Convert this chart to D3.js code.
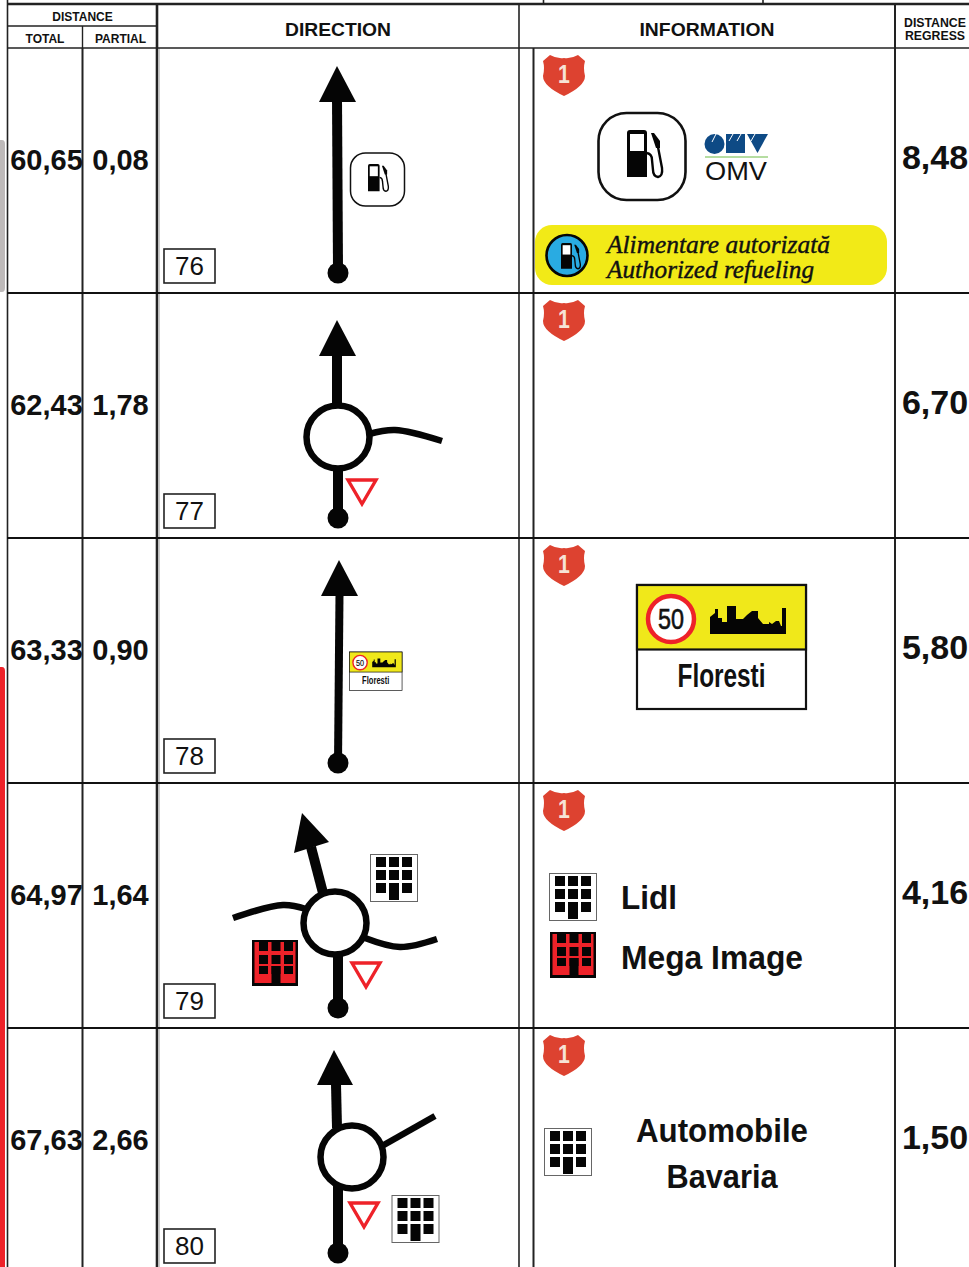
<!DOCTYPE html>
<html>
<head>
<meta charset="utf-8">
<style>
html, body { margin: 0; padding: 0; background: #fff; overflow: hidden; }
svg { display: block; }
text { font-family: "Liberation Sans", Arial, sans-serif; fill: #111; }
</style>
</head>
<body>
<div id="container"></div>
<script src="https://cdnjs.cloudflare.com/ajax/libs/d3/7.8.5/d3.min.js"></script>
<script>
// roadbook sheet, km 60 - 67
const totals = ["60,65", "62,43", "63,33", "64,97", "67,63"]
const partials = ["0,08", "1,78", "0,90", "1,64", "2,66"]
const regress = ["8,48", "6,70", "5,80", "4,16", "1,50"]
const steps = ["76", "77", "78", "79", "80"]
const refuelLines = ["Alimentare autorizată", "Authorized refueling"]
const shops = ["Lidl", "Mega Image"]
const dealerLines = ["Automobile", "Bavaria"]
const signSpeed = "50", signTown = "Floresti", roadNo = "1"

const w = 969, h = 1267
const svg = d3.select("#container").append("svg").attr("width", w).attr("height", h).style("background-color", "white")

const rowY = d3.scaleLinear().domain([0, 1]).range([48, 293])
const ink = "#050505", red = "#ee2229", yellow = "#f2ea17"
const line = d3.line(), curve = d3.line().curve(d3.curveCatmullRom)

// scroll bars at the left edge of the photo
svg.append("path").attr("d", "M0,140 h2 q3,0 3,4 v144 q0,4 -3,4 h-2 z").attr("fill", "#bdb9b9")
svg.append("path").attr("d", "M0,667 h2 q3,0 3,4 v596 h-5 z").attr("fill", red)

// table frame
const rules = [
    [7.5, 0, 7.5, h, 1.6], [82.5, 26, 82.5, 48, 1.4], [82.5, 48, 82.5, h, 2], [157, 4, 157, h, 2.6],
    [519, 4, 519, h, 1.6], [533.5, 48, 533.5, h, 2], [895, 4, 895, h, 2],
    [543.5, 0, 543.5, 4, 1.6], [763, 0, 763, 4, 1.6],
    [7, 4, w, 4, 2.4], [7, 26, 157, 26, 1.4], [7, 48, w, 48, 1.6]
]
svg.append("line").attr("x1", 159.5).attr("x2", 159.5).attr("y1", 48).attr("y2", h).attr("stroke", "#ccc").attr("stroke-width", 1)
svg.selectAll(".rule").data(rules).enter().append("line").attr("class", "rule")
    .attr("x1", d => d[0]).attr("y1", d => d[1]).attr("x2", d => d[2]).attr("y2", d => d[3])
    .attr("stroke", "#222").attr("stroke-width", d => d[4])
svg.selectAll(".rowline").data(d3.range(1, 5)).enter().append("line").attr("class", "rowline")
    .attr("x1", 7).attr("x2", w).attr("y1", d => rowY(d)).attr("y2", d => rowY(d)).attr("stroke", "#111").attr("stroke-width", 1.8)

function label(x, y, str, size, anchor, len) {
    const t = svg.append("text").attr("x", x).attr("y", y).attr("font-size", size).attr("font-weight", "bold")
        .attr("text-anchor", anchor || "middle").text(str)
    if (len) t.attr("textLength", len).attr("lengthAdjust", "spacingAndGlyphs")
    return t
}
label(82.5, 21, "DISTANCE", 12)
label(45, 43, "TOTAL", 12)
label(120.5, 43, "PARTIAL", 12)
label(338, 36, "DIRECTION", 19, "middle", 106)
label(707, 36, "INFORMATION", 19, "middle", 135)
label(935, 27, "DISTANCE", 12.3)
label(935, 40, "REGRESS", 12.3)

// number columns
const cols = [[totals, 46.5, 29, 122], [partials, 120.5, 29, 122], [regress, 935, 34, 121]]
cols.forEach(c => {
    svg.selectAll(null).data(c[0]).enter().append("text")
        .attr("x", c[1]).attr("y", (d, i) => rowY(i) + c[3]).attr("font-size", c[2])
        .attr("font-weight", "bold").attr("text-anchor", "middle").text(d => d)
})

// step number boxes
svg.selectAll(".stepbox").data(steps).enter().append("rect").attr("class", "stepbox")
    .attr("x", 164).attr("y", (d, i) => rowY(i) + 201).attr("width", 51).attr("height", 34)
    .attr("fill", "white").attr("stroke", "#222").attr("stroke-width", 1.6)
svg.selectAll(".steptxt").data(steps).enter().append("text").attr("class", "steptxt")
    .attr("x", 189.5).attr("y", (d, i) => rowY(i) + 227).attr("font-size", 26).attr("text-anchor", "middle").text(d => d)

// red road shields
const shield = "M7,1 Q14,5 21,4 Q28,5 35,1 L42,7 Q40,14 42,22 Q42,32 21,42 Q0,32 0,22 Q2,14 0,7 Z"
steps.forEach((s, i) => {
    const g = svg.append("g").attr("transform", `translate(543, ${rowY(i) + 6})`)
    g.append("path").attr("d", shield).attr("fill", "#dd4230")
    g.append("text").attr("x", 21).attr("y", 29).attr("font-size", 25).attr("font-weight", "bold")
        .attr("text-anchor", "middle").style("fill", "#f6e3d6").attr("transform", "translate(21,0) scale(0.85,1) translate(-21,0)").text(roadNo)
})

// road drawing helpers
function road(pts, width) {
    svg.append("path").attr("d", line(pts)).attr("fill", "none").attr("stroke", ink).attr("stroke-width", width || 10)
}
function sideRoad(pts, width) {
    svg.append("path").attr("d", curve(pts)).attr("fill", "none").attr("stroke", ink).attr("stroke-width", width || 6.5)
}
function head(a, b, c) {
    svg.append("path").attr("d", line([a, b, c]) + "Z").attr("fill", ink)
}
function dot(x, y) {
    svg.append("circle").attr("cx", x).attr("cy", y).attr("r", 10.5).attr("fill", ink)
}
function roundabout(x, y) {
    svg.append("circle").attr("cx", x).attr("cy", y).attr("r", 31.5).attr("fill", "white").attr("stroke", ink).attr("stroke-width", 6.5)
}
function yieldSign(x, y) {
    svg.append("path").attr("d", line([[x, y], [x + 28, y], [x + 14, y + 24]]) + "Z")
        .attr("fill", "white").attr("stroke", red).attr("stroke-width", 3.4)
}

// fuel pump glyph, 36 x 48 at scale 1
function pump(parent, x, y, s) {
    const g = parent.append("g").attr("transform", `translate(${x}, ${y}) scale(${s})`)
    g.append("path").attr("d", "M0,3 Q0,0 3,0 H17 Q20,0 20,3 V47 H0 Z").attr("fill", ink)
    g.append("rect").attr("x", 3).attr("y", 4).attr("width", 14).attr("height", 17).attr("fill", "white")
    g.append("path").attr("d", "M24,3 L27,3 L33,11 L33,18 L29,18 Z").attr("fill", ink)
    g.append("path").attr("d", "M31,17 L35,38 Q36,46 31,47 Q26,46 26,40 L25,30 Q25,24 20,23")
        .attr("fill", "none").attr("stroke", ink).attr("stroke-width", 2.4)
    return g
}
function gridIcon(x, y) {
    const g = svg.append("g").attr("transform", `translate(${x}, ${y})`)
    g.append("rect").attr("x", 0.5).attr("y", 0.5).attr("width", 47).attr("height", 47).attr("fill", "white").attr("stroke", "#666").attr("stroke-width", 1)
    d3.range(3).forEach(r => d3.range(3).forEach(c => {
        if (r === 2 && c === 1) return
        g.append("rect").attr("x", 6 + c * 13).attr("y", 3 + r * 13).attr("width", 10).attr("height", 10).attr("fill", ink)
    }))
    g.append("rect").attr("x", 19).attr("y", 29).attr("width", 10).attr("height", 17).attr("fill", ink)
}
function redIcon(x, y) {
    const g = svg.append("g").attr("transform", `translate(${x}, ${y})`)
    g.append("rect").attr("width", 46).attr("height", 46).attr("fill", ink)
    g.append("rect").attr("x", 2.5).attr("y", 2).attr("width", 41).attr("height", 41).attr("fill", red)
    const rows = [[0, 11], [15, 9], [26, 8]]
    rows.forEach(r => d3.range(3).forEach(c => {
        g.append("rect").attr("x", 7 + c * 12.5).attr("y", r[0]).attr("width", 9).attr("height", r[1]).attr("fill", ink)
    }))
    g.append("rect").attr("x", 19.5).attr("y", 26).attr("width", 9).attr("height", 20).attr("fill", ink)
}

// town entry sign, 169 x 124 at scale 1
function townSign(x, y, s) {
    const g = svg.append("g").attr("transform", `translate(${x}, ${y}) scale(${s})`)
    g.append("rect").attr("x", 0).attr("y", 0).attr("width", 169).attr("height", 124).attr("fill", "white").attr("stroke", "#111").attr("stroke-width", 2.2)
    g.append("rect").attr("x", 0).attr("y", 0).attr("width", 169).attr("height", 64.5).attr("fill", "#f0e81a").attr("stroke", "#111").attr("stroke-width", 2.2)
    g.append("circle").attr("cx", 34).attr("cy", 34).attr("r", 23).attr("fill", "white").attr("stroke", red).attr("stroke-width", 4.5)
    g.append("text").attr("x", 34).attr("y", 44).attr("font-size", 29).attr("text-anchor", "middle").attr("stroke", "#111").attr("stroke-width", 0.6)
        .attr("textLength", 26).attr("lengthAdjust", "spacingAndGlyphs").text(signSpeed)
    g.append("path").attr("d", "M73,49 V32 L78,28 V24 H81 V33 H85 V37 H90 V21 H99 V34 H106 L110,30 L115,26 H121 V33 L126,39 H132 V37 L135,39 L139,36 H142 L144,41 H145 V23 H149 V49 Z").attr("fill", ink)
    g.append("text").attr("x", 84.5).attr("y", 102).attr("font-size", 34).attr("font-weight", "bold").attr("text-anchor", "middle")
        .attr("textLength", 88).attr("lengthAdjust", "spacingAndGlyphs").text(signTown)
}

// row 76
road([[338, 268], [337, 98]])
head([337, 66], [356, 102], [319, 102])
dot(338, 273)
svg.append("rect").attr("x", 350.5).attr("y", 153).attr("width", 54).attr("height", 53).attr("rx", 15).attr("fill", "white").attr("stroke", "#111").attr("stroke-width", 1.5)
pump(svg, 368, 164, 0.58)
svg.append("rect").attr("x", 598.5).attr("y", 113).attr("width", 87).attr("height", 87).attr("rx", 28).attr("fill", "white").attr("stroke", "#111").attr("stroke-width", 2.6)
pump(svg, 627, 130, 1)
// fuel company logo
const omv = "#0e4a85"
svg.append("circle").attr("cx", 714.5).attr("cy", 144).attr("r", 10).attr("fill", omv)
svg.append("rect").attr("x", 726).attr("y", 134).attr("width", 19).attr("height", 19).attr("fill", omv)
svg.append("path").attr("d", line([[747, 134], [768, 134], [757.5, 153]]) + "Z").attr("fill", omv)
svg.append("path").attr("d", "M716,134 L712,142 M733,134 L729,141 M741,134 L737,141 M755,134 L751,141").attr("stroke", "white").attr("stroke-width", 1)
svg.append("line").attr("x1", 705).attr("x2", 768).attr("y1", 157).attr("y2", 157).attr("stroke", "#6dbb45").attr("stroke-width", 1)
svg.append("text").attr("x", 705).attr("y", 179.5).attr("font-size", 25).attr("textLength", 62).attr("lengthAdjust", "spacingAndGlyphs").text("OMV")
// refueling strip
svg.append("rect").attr("x", 535).attr("y", 225).attr("width", 352).attr("height", 60).attr("rx", 17).attr("fill", yellow)
svg.append("circle").attr("cx", 567).attr("cy", 255.5).attr("r", 20.5).attr("fill", "#29abe2").attr("stroke", ink).attr("stroke-width", 2.6)
pump(svg, 561, 243, 0.55)
const refuelLen = [223, 207]
svg.selectAll(".refuel").data(refuelLines).enter().append("text").attr("class", "refuel")
    .attr("x", 607).attr("y", (d, i) => 253 + i * 25).attr("font-size", 25).attr("font-style", "italic")
    .style("font-family", "'Liberation Serif', serif").attr("stroke", "#111").attr("stroke-width", 0.4)
    .attr("textLength", (d, i) => refuelLen[i]).attr("lengthAdjust", "spacingAndGlyphs").text(d => d)

// row 77
road([[338, 518], [338, 470]])
road([[337, 405], [337, 352]])
head([337, 320], [356, 356], [319, 356])
sideRoad([[369, 434], [395, 430], [442, 441]])
roundabout(338, 437)
dot(338, 518)
yieldSign(348, 480)

// row 78
road([[338, 763], [339.5, 594]], 8)
head([339, 560], [358, 596], [321, 596])
dot(338, 763)
townSign(349.5, 652, 0.311)
townSign(637, 585, 1)

// row 79
road([[338, 1008], [338, 953]])
road([[323, 893], [311, 847]])
head([302, 813], [329, 842], [294, 853])
sideRoad([[233, 918], [283, 905], [306, 909]])
sideRoad([[365, 938], [400, 947], [437, 939]])
roundabout(335, 923)
dot(338, 1008)
yieldSign(352, 963)
gridIcon(370, 854)
redIcon(252, 940)
gridIcon(549, 873)
redIcon(550, 932)
label(621, 909, shops[0], 33, "start", 56)
label(621, 969, shops[1], 33, "start", 182)

// row 80
road([[338, 1250], [338, 1186]])
road([[337, 1128], [336, 1084]])
head([334, 1050], [353, 1085], [317, 1085])
sideRoad([[382, 1146], [435, 1116]])
roundabout(352, 1157)
dot(338, 1253)
yieldSign(350, 1203)
gridIcon(391.5, 1195)
gridIcon(544, 1128)
label(722, 1142, dealerLines[0], 33, "middle", 172)
label(722, 1188, dealerLines[1], 33, "middle", 111)
</script>
</body>
</html>
